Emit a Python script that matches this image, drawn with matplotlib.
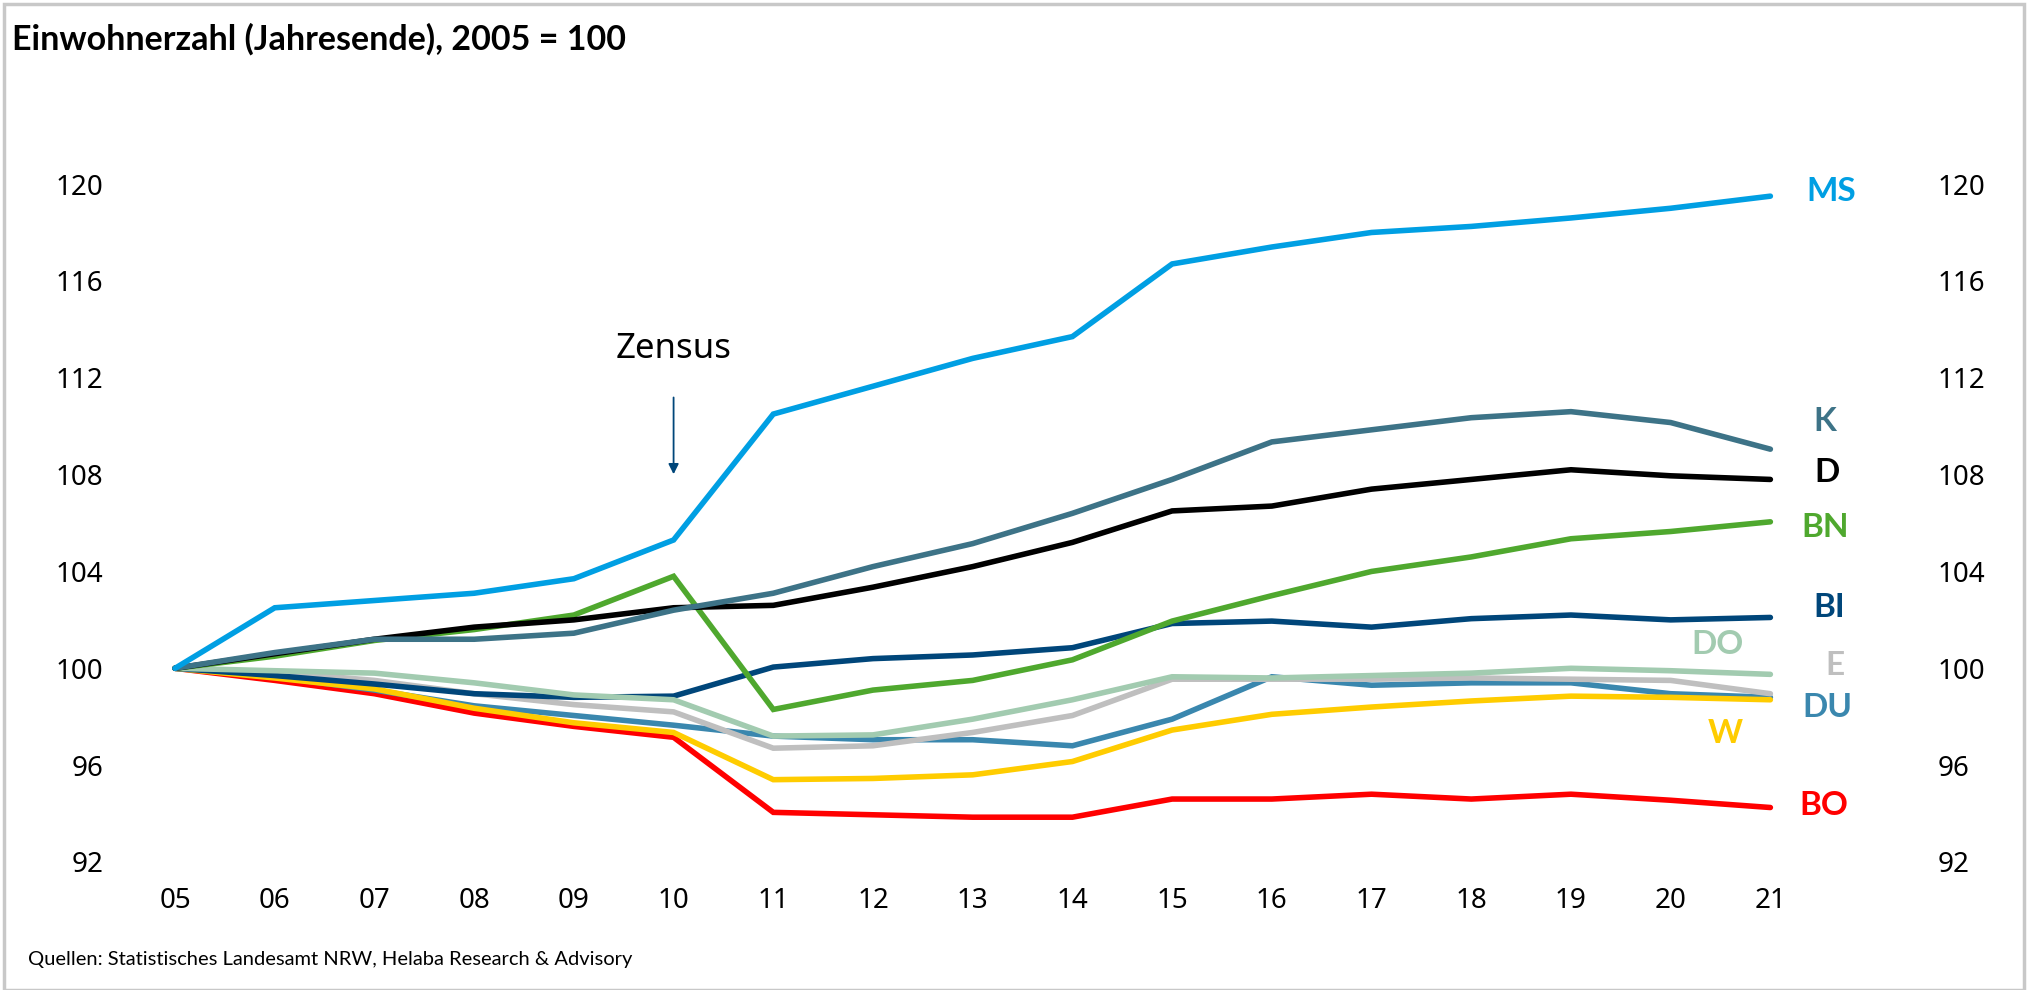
import matplotlib
matplotlib.use('Agg')
import matplotlib.pyplot as plt
from matplotlib.patches import Rectangle

## data, index 2005 = 100
years = ['05', '06', '07', '08', '09', '10', '11', '12', '13', '14', '15', '16', '17', '18', '19', '20', '21']
MS = [100, 102.5, 102.8, 103.1, 103.7, 105.3, 110.5, 111.65, 112.8, 113.7, 116.7, 117.4, 118.0, 118.25, 118.6, 119.0, 119.5]
K = [100, 100.65, 101.2, 101.2, 101.45, 102.4, 103.1, 104.2, 105.15, 106.4, 107.8, 109.35, 109.85, 110.35, 110.6, 110.15, 109.05]
D = [100, 100.6, 101.2, 101.7, 102.0, 102.5, 102.6, 103.35, 104.2, 105.2, 106.5, 106.7, 107.4, 107.8, 108.2, 107.95, 107.8]
BN = [100, 100.5, 101.15, 101.6, 102.2, 103.8, 98.3, 99.1, 99.5, 100.35, 101.95, 103.0, 104.0, 104.6, 105.35, 105.65, 106.05]
BI = [100, 99.7, 99.35, 98.95, 98.8, 98.85, 100.05, 100.4, 100.55, 100.85, 101.85, 101.95, 101.7, 102.05, 102.2, 102.0, 102.1]
DO = [100, 99.9, 99.8, 99.4, 98.9, 98.7, 97.2, 97.25, 97.9, 98.7, 99.65, 99.6, 99.7, 99.8, 100.0, 99.9, 99.75]
E = [100, 99.85, 99.5, 98.95, 98.5, 98.2, 96.7, 96.8, 97.35, 98.05, 99.55, 99.55, 99.55, 99.6, 99.55, 99.5, 98.95]
DU = [100, 99.65, 99.1, 98.45, 98.05, 97.65, 97.2, 97.05, 97.05, 96.8, 97.9, 99.65, 99.3, 99.4, 99.4, 98.95, 98.8]
W = [100, 99.6, 99.15, 98.35, 97.75, 97.35, 95.4, 95.45, 95.6, 96.15, 97.45, 98.1, 98.4, 98.65, 98.85, 98.8, 98.7]
BO = [100, 99.5, 98.95, 98.15, 97.6, 97.15, 94.05, 93.95, 93.85, 93.85, 94.6, 94.6, 94.8, 94.6, 94.8, 94.55, 94.25]

# name, values, colour, label position (x index, y)
series = [
    ('BO', BO, '#FF0000', (16.54, 94.35)),
    ('DU', DU, '#3A87AE', (16.57, 98.4)),
    ('E', E, '#BFBFBF', (16.65, 100.1)),
    ('W', W, '#FFCC00', (15.55, 97.3)),
    ('BI', BI, '#00467A', (16.59, 102.5)),
    ('DO', DO, '#A2CBB0', (15.47, 101.0)),
    ('BN', BN, '#4FA82E', (16.55, 105.8)),
    ('D', D, '#000000', (16.57, 108.1)),
    ('K', K, '#3D7387', (16.55, 110.2)),
    ('MS', MS, '#009FE3', (16.61, 119.7)),
]

LBL_FONT = ['Lato', 'DejaVu Sans']
TICK_FONT = ['Noto Sans', 'DejaVu Sans']

W_PX, H_PX = 2032, 990
fig = plt.figure(figsize=(W_PX / 100, H_PX / 100), dpi=100)

# axes placed so that 05 sits at ~175px and 21 at ~1770px
ax = fig.add_axes([120 / W_PX, 0.1293, 1780 / W_PX, 0.7337])
x = list(range(len(years)))

for name, vals, col, (lx, ly) in series:
    ax.plot(x, vals, color=col, lw=4.0, solid_capstyle='round', solid_joinstyle='miter')
    ax.text(lx, ly, name, color=col, fontsize=24, fontweight='bold',
            family=LBL_FONT, ha='center', va='center')

ax.set_xlim(-0.552, 17.30)
ax.set_ylim(92, 122)
ax.set_xticks(x)
ax.set_xticklabels(years)
ax.set_yticks(range(92, 121, 4))
for s in ax.spines.values():
    s.set_visible(False)
ax.tick_params(axis='both', length=0, labelsize=20)
ax.tick_params(axis='x', pad=18)
ax.tick_params(axis='y', pad=12)

ax2 = ax.twinx()
ax2.set_ylim(ax.get_ylim())
ax2.set_yticks(range(92, 121, 4))
for s in ax2.spines.values():
    s.set_visible(False)
ax2.tick_params(axis='y', length=0, labelsize=20, pad=27)

for lab in ax.get_xticklabels() + ax.get_yticklabels() + ax2.get_yticklabels():
    lab.set_family(TICK_FONT)

# Zensus marker
ax.text(5.0, 113.2, 'Zensus', fontsize=25, family=TICK_FONT, ha='center', va='center')
ax.annotate('', xy=(5.0, 107.9), xytext=(5.0, 111.3),
            arrowprops=dict(arrowstyle='-|>', color='#00467A', lw=1.3, mutation_scale=15))

fig.text(12 / W_PX, 1 - 39 / H_PX, 'Einwohnerzahl (Jahresende), 2005 = 100', fontsize=24.5,
         fontweight='bold', family=LBL_FONT, va='center', ha='left')
fig.text(28 / W_PX, 1 - 959 / H_PX, 'Quellen: Statistisches Landesamt NRW, Helaba Research & Advisory',
         fontsize=14.5, family=LBL_FONT, va='center', ha='left')

fig.patches.append(Rectangle((4 / W_PX, 0), (W_PX - 12) / W_PX, 1 - 4 / H_PX,
                             transform=fig.transFigure, fill=False, edgecolor='#C8C8C8', lw=2.5))

plt.savefig('out.png', dpi=100)
